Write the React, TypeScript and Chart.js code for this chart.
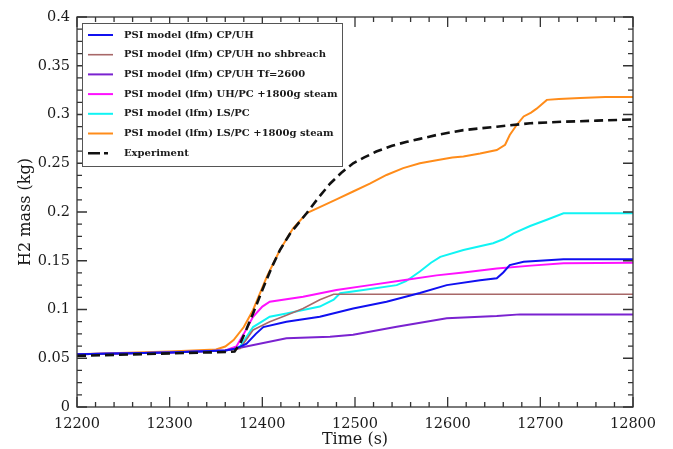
import React, { useEffect, useRef } from "react";
import { Chart, registerables } from "chart.js";

Chart.register(...registerables);

const seriesLabels = [
  "PSI model (lfm) CP/UH",
  "PSI model (lfm) CP/UH no shbreach",
  "PSI model (lfm) CP/UH Tf=2600",
  "PSI model (lfm) UH/PC +1800g steam",
  "PSI model (lfm) LS/PC",
  "PSI model (lfm) LS/PC +1800g steam",
  "Experiment",
];
const seriesColors = ["#1010f0", "#a86868", "#7a22d0", "#ff10ff", "#10f4f4", "#ff8c1a", "#111111"];

const blueT = [12200, 12300, 12360, 12372, 12383, 12393, 12401, 12426, 12462, 12498, 12534, 12570, 12599, 12635, 12653, 12660, 12667, 12682, 12725, 12800];
const blueV = [0.054, 0.056, 0.058, 0.06, 0.065, 0.075, 0.082, 0.0875, 0.0926, 0.101, 0.108, 0.117, 0.125, 0.13, 0.132, 0.138, 0.1456, 0.149, 0.1515, 0.1515];

const brownT = [12200, 12300, 12360, 12376, 12390, 12408, 12426, 12444, 12462, 12477, 12800];
const brownV = [0.054, 0.056, 0.058, 0.06, 0.079, 0.0875, 0.094, 0.101, 0.11, 0.1156, 0.1156];

const purpleT = [12200, 12300, 12360, 12372, 12426, 12473, 12498, 12545, 12599, 12653, 12678, 12800];
const purpleV = [0.054, 0.056, 0.058, 0.06, 0.0705, 0.072, 0.074, 0.0824, 0.091, 0.0933, 0.095, 0.095];

const magentaT = [12200, 12300, 12360, 12372, 12380, 12390, 12400, 12408, 12444, 12480, 12516, 12552, 12588, 12617, 12653, 12690, 12725, 12800];
const magentaV = [0.054, 0.056, 0.058, 0.062, 0.075, 0.0926, 0.103, 0.108, 0.113, 0.12, 0.125, 0.13, 0.135, 0.138, 0.142, 0.145, 0.1475, 0.148];

const cyanT = [12200, 12300, 12360, 12376, 12390, 12408, 12426, 12444, 12462, 12477, 12484, 12509, 12545, 12555, 12570, 12582, 12592, 12617, 12649, 12660, 12671, 12689, 12707, 12725, 12800];
const cyanV = [0.054, 0.056, 0.058, 0.062, 0.082, 0.0926, 0.096, 0.0995, 0.103, 0.11, 0.1166, 0.12, 0.125, 0.129, 0.139, 0.148, 0.154, 0.161, 0.168, 0.172, 0.178, 0.1856, 0.192, 0.1987, 0.1987];

const orangeT = [12200, 12300, 12350, 12360, 12369, 12380, 12390, 12405, 12419, 12433, 12448, 12462, 12480, 12498, 12516, 12534, 12552, 12570, 12588, 12605, 12617, 12635, 12653, 12662, 12667, 12675, 12682, 12690, 12696, 12707, 12720, 12743, 12770, 12800];
const orangeV = [0.054, 0.057, 0.059, 0.062, 0.0687, 0.082, 0.0995, 0.134, 0.161, 0.183, 0.199, 0.205, 0.213, 0.221, 0.229, 0.238, 0.245, 0.25, 0.253, 0.256, 0.257, 0.26, 0.2636, 0.269, 0.279, 0.29, 0.298, 0.302, 0.306, 0.315, 0.316, 0.317, 0.318, 0.318];

const expT = [12200, 12300, 12365, 12370, 12376, 12383, 12390, 12400, 12410, 12419, 12430, 12448, 12460, 12473, 12485, 12498, 12510, 12523, 12540, 12556, 12570, 12588, 12617, 12653, 12689, 12725, 12761, 12800];
const expV = [0.0525, 0.055, 0.0565, 0.057, 0.065, 0.08, 0.096, 0.12, 0.143, 0.161, 0.178, 0.199, 0.214, 0.229, 0.24, 0.25, 0.256, 0.262, 0.268, 0.272, 0.275, 0.279, 0.284, 0.2875, 0.291, 0.2926, 0.2937, 0.295];

const xTickValues = [12200, 12300, 12400, 12500, 12600, 12700, 12800];
const yTickValues = [0, 0.05, 0.1, 0.15, 0.2, 0.25, 0.3, 0.35, 0.4];

const seriesT = [blueT, brownT, purpleT, magentaT, cyanT, orangeT, expT];
const seriesV = [blueV, brownV, purpleV, magentaV, cyanV, orangeV, expV];

const FONT = '"DejaVu Serif", serif';

const frameTicks = {
  id: "frameTicks",
  afterDatasetsDraw(chart: any) {
    const { ctx, chartArea: a, scales } = chart;
    const xs = scales.x;
    const ys = scales.y;
    ctx.save();
    ctx.strokeStyle = "#333";
    ctx.lineWidth = 1.3;
    ctx.strokeRect(a.left, a.top, a.right - a.left, a.bottom - a.top);
    ctx.beginPath();
    for (let i = 0; i <= 30; i++) {
      const v = 12200 + i * 20;
      const px = xs.getPixelForValue(v);
      const len = i % 5 === 0 ? 10 : 5;
      ctx.moveTo(px, a.bottom);
      ctx.lineTo(px, a.bottom - len);
      ctx.moveTo(px, a.top);
      ctx.lineTo(px, a.top + len);
    }
    for (let i = 0; i <= 32; i++) {
      const v = i * 0.0125;
      const py = ys.getPixelForValue(v);
      const len = i % 4 === 0 ? 10 : 5;
      ctx.moveTo(a.left, py);
      ctx.lineTo(a.left + len, py);
      ctx.moveTo(a.right, py);
      ctx.lineTo(a.right - len, py);
    }
    ctx.stroke();

    // legend
    const bx = 82, by = 23, bw = 260, bh = 143;
    ctx.fillStyle = "#fff";
    ctx.fillRect(bx, by, bw, bh);
    ctx.strokeStyle = "#555";
    ctx.lineWidth = 1;
    ctx.strokeRect(bx + 0.5, by + 0.5, bw, bh);
    ctx.font = "bold 10px " + FONT;
    ctx.textBaseline = "middle";
    ctx.textAlign = "left";
    chart.data.datasets.forEach((ds: any, i: number) => {
      const y = 35 + i * 19.7;
      ctx.beginPath();
      ctx.strokeStyle = ds.borderColor;
      ctx.lineWidth = ds.borderWidth;
      ctx.setLineDash(ds.borderDash ? [12, 4, 4, 20] : []);
      ctx.moveTo(88, y);
      ctx.lineTo(113, y);
      ctx.stroke();
      ctx.setLineDash([]);
      ctx.fillStyle = "#1a1a1a";
      ctx.fillText(ds.label, 124, y);
    });
    ctx.restore();
  },
};

export default function App() {
  const ref = useRef<HTMLCanvasElement | null>(null);
  useEffect(() => {
    document.body.style.margin = "0";
    const canvas = ref.current!;
    const datasets = seriesLabels.map((label, i) => ({
      label,
      data: seriesT[i].map((t, j) => ({ x: t, y: seriesV[i][j] })),
      borderColor: seriesColors[i],
      backgroundColor: seriesColors[i],
      borderWidth: i === 6 ? 2.6 : i === 1 ? 1.6 : 2,
      borderDash: i === 6 ? [9, 5] : undefined,
      pointRadius: 0,
      tension: 0,
      fill: false,
      order: i === 6 ? -1 : i,
    }));
    const chart = new Chart(canvas, {
      type: "line",
      data: { datasets },
      options: {
        responsive: false,
        animation: false,
        layout: { padding: { top: 17, right: 40, left: 16, bottom: 0 } },
        plugins: { legend: { display: false }, tooltip: { enabled: false } },
        scales: {
          x: {
            type: "linear",
            min: 12200,
            max: 12800,
            grid: { display: false, drawTicks: false },
            border: { display: false },
            afterBuildTicks: (s: any) => {
              s.ticks = xTickValues.map((v) => ({ value: v }));
            },
            afterFit: (s: any) => {
              s.height = 42;
            },
            ticks: {
              padding: 9,
              color: "#1a1a1a",
              font: { family: FONT, size: 14.5 },
              callback: (v: any) => String(v),
            },
            title: {
              display: true,
              text: "Time (s)",
              color: "#1a1a1a",
              font: { family: FONT, size: 16 },
              padding: { top: 0, bottom: 0 },
            },
          },
          y: {
            type: "linear",
            min: 0,
            max: 0.4,
            grid: { display: false, drawTicks: false },
            border: { display: false },
            afterBuildTicks: (s: any) => {
              s.ticks = yTickValues.map((v) => ({ value: v }));
            },
            afterFit: (s: any) => {
              s.width = 61;
            },
            ticks: {
              padding: 7,
              color: "#1a1a1a",
              font: { family: FONT, size: 14.5 },
              callback: (v: any) => String(+Number(v).toFixed(3)),
            },
            title: {
              display: true,
              text: "H2 mass (kg)",
              color: "#1a1a1a",
              font: { family: FONT, size: 16 },
              padding: { top: 0, bottom: 4 },
            },
          },
        },
      },
      plugins: [frameTicks],
    });
    return () => chart.destroy();
  }, []);
  return (
    <div style={{ width: 673, height: 449, background: "#fff" }}>
      <canvas ref={ref} width={673} height={449} style={{ display: "block" }} />
    </div>
  );
}
